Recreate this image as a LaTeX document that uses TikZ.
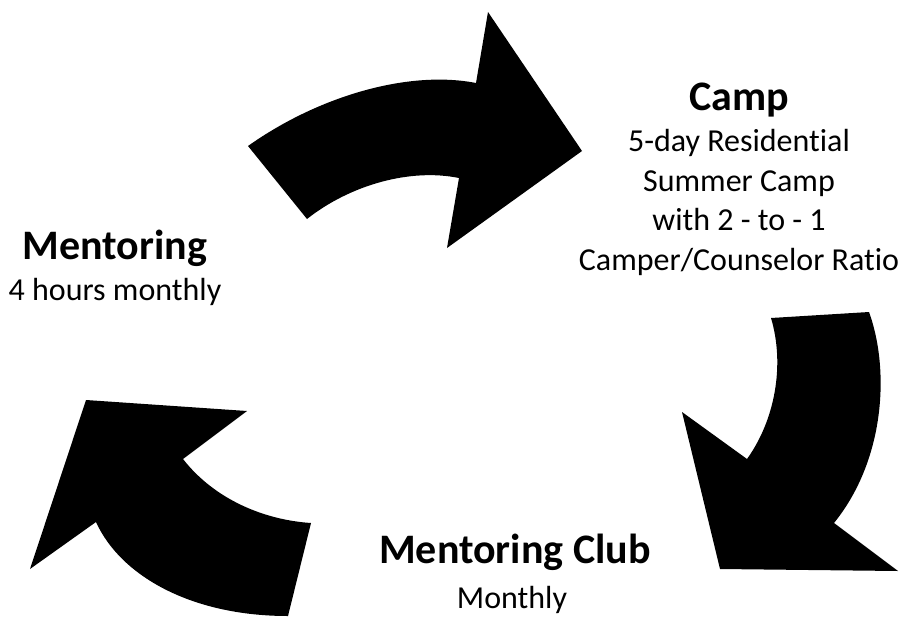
\documentclass[tikz,border=0pt]{standalone}
\usepackage{fontspec}
\setmainfont{Carlito}[Ligatures={NoCommon,NoRare,NoContextual}]
\usepackage{tikz}
\usetikzlibrary{positioning}

\begin{document}
\begin{tikzpicture}[x=1pt, y=-1pt,
		head/.style={font=\fontsize{42}{50}\selectfont\bfseries, inner sep=0, anchor=base},
		info/.style={font=\fontsize{32}{39.5}\selectfont, align=center, inner sep=0, anchor=base},
		bigarrow/.style={fill=black, draw=none}
		]
		\useasboundingbox (0,0) rectangle (902,616);
		% arrow to camp
		\fill[bigarrow] (248,146) .. controls (320,95) and (410,70) .. (476,83) -- (488,12) -- (582,151)
			-- (447,248) -- (459,178) .. controls (410,168) and (350,185) .. (307,219) -- cycle;
		% arrow to club
		\fill[bigarrow] (869,312) .. controls (890,370) and (885,460) .. (834,523) -- (898,571) -- (720,569)
			-- (682,412) -- (747,459) .. controls (775,420) and (785,365) .. (771,318) -- cycle;
		% arrow to mentoring
		\fill[bigarrow] (311,523) .. controls (265,520) and (215,500) .. (183,459) -- (247,411) -- (86,400)
			-- (30,569) -- (96,522) .. controls (120,575) and (190,616) .. (288,616) -- cycle;
		\node[head] (camp) at (739,110) {Camp};
		\node[info] (campinfo) at (739,270) {5-day Residential\\Summer Camp\\with 2 - to - 1\\Camper/Counselor Ratio};
		\node[head] (mentor) at (115,259) {Mentoring};
		\node[info] (mentorinfo) at (115,300) {4 hours monthly};
		\node[head] (club) at (515,563) {Mentoring Club};
		\node[info] (clubinfo) at (512,608) {Monthly};
\end{tikzpicture}
\end{document}
